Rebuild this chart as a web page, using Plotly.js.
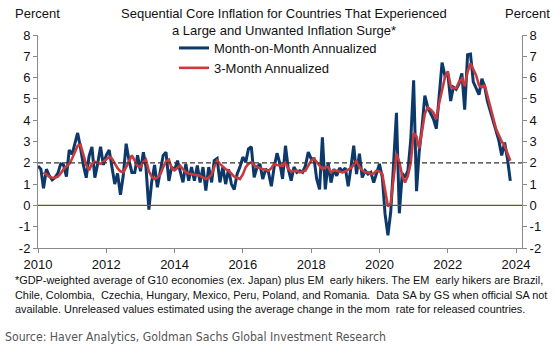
<!DOCTYPE html>
<html>
<head>
<meta charset="utf-8">
<script src="https://cdn.plot.ly/plotly-3.0.1.min.js"></script>
<style>html,body{margin:0;padding:0;background:#fff}#chart{width:556px;height:344px}</style>
</head>
<body>
<div id="chart"></div>
<script>
// ---- data (monthly, Jan 2010 – Nov 2023) ----
const startYear = 2010;
const momAnnualized = [
 1.85,1.7,0.8,1.7,1.4,1.2,1.3,1.5,1.95,1.9,1.35,2.6,
 2.4,2.9,3.4,2.7,1.9,1.3,2.3,2.75,1.3,1.95,2.75,1.9,
 2.35,2.6,1.8,1.0,1.5,0.5,1.4,2.9,2.1,1.55,1.55,2.35,
 1.6,2.5,1.8,-0.2,1.1,1.9,0.85,1.7,2.35,2.5,1.15,1.8,
 1.65,2.1,1.6,1.08,1.95,1.16,1.8,1.16,1.87,1.08,1.8,0.7,
 1.8,1.08,2.1,2.2,1.08,1.8,1.0,1.7,1.0,0.75,1.48,1.8,
 2.27,2.03,2.65,2.75,1.32,1.8,1.95,1.24,1.71,1.56,0.9,1.8,
 2.45,1.95,1.24,2.8,1.71,1.16,1.8,1.55,1.63,1.55,1.87,2.5,
 2.19,2.19,1.24,0.75,3.2,0.75,2.0,1.07,1.7,1.39,1.76,1.6,
 1.76,0.9,1.74,2.8,1.47,2.43,1.31,1.63,1.47,1.55,1.07,1.5,
 1.95,1.31,-0.4,-1.4,-0.3,2.0,4.35,-0.37,1.5,1.31,1.63,3.07,
 5.87,0.67,2.5,3.71,5.15,4.6,4.35,4.05,3.6,5.3,6.7,6.1,
 6.2,4.9,5.55,5.45,5.7,6.2,4.5,7.07,7.1,5.8,5.5,5.2,
 5.95,5.55,4.9,4.4,4.0,3.4,3.05,2.35,2.95,2.2,1.15
];
const threeMonthAnnualized = [
 null,null,1.55,1.45,1.35,1.3,1.3,1.35,1.5,1.7,1.85,1.95,
 2.2,2.5,2.8,2.85,2.4,1.9,1.65,1.95,2.05,2.0,1.95,2.05,
 2.15,2.27,2.2,1.95,1.75,1.6,1.55,1.8,2.1,2.35,2.1,1.85,
 1.8,2.05,2.15,1.6,1.35,1.24,1.3,1.45,1.8,2.05,2.15,1.75,
 1.65,1.75,1.87,1.7,1.55,1.5,1.47,1.45,1.42,1.39,1.3,1.24,
 1.3,1.45,1.8,2.1,1.95,1.8,1.7,1.63,1.5,1.35,1.3,1.24,
 1.45,1.8,1.95,2.03,1.9,1.8,1.75,1.71,1.65,1.63,1.75,1.95,
 1.9,1.87,1.85,2.03,1.71,1.6,1.6,1.63,1.55,1.6,1.63,1.87,
 2.1,2.19,2.03,1.85,1.7,1.8,1.8,1.55,1.65,1.63,1.6,1.55,
 1.6,1.7,1.75,1.9,2.1,1.8,1.65,1.55,1.55,1.47,1.5,1.63,
 1.6,1.47,0.75,-0.05,0.1,1.15,2.43,2.03,1.39,1.07,1.4,2.0,
 3.39,3.23,2.67,3.5,4.3,4.6,4.5,4.35,4.05,4.8,5.5,6.0,
 6.3,5.6,5.5,5.5,5.8,5.95,5.6,6.27,6.67,6.4,6.1,5.63,
 5.55,5.63,5.15,4.6,4.0,3.6,3.3,3.0,2.8,2.45,2.1
];
const yTickVals = [-2,-1,0,1,2,3,4,5,6,7,8];
const yTickText = ['-2','-1','0','1','2','3','4','5','6','7','8'];
const seriesNames = ['Month-on-Month Annualized','3-Month Annualized'];
const titleLines = ['Sequential Core Inflation for Countries That Experienced', 'a Large and Unwanted Inflation Surge*'];
const footnoteLines = [
  '*GDP-weighted average of G10 economies (ex. Japan) plus EM  early hikers. The EM  early hikers are Brazil,',
  'Chile, Colombia,  Czechia, Hungary, Mexico, Peru, Poland, and Romania.  Data SA by GS when official SA not',
  'available. Unreleased values estimated using the average change in the mom  rate for released countries.'
];
const sourceText = 'Source: Haver Analytics, Goldman Sachs Global Investment Research';

const dates = momAnnualized.map((_, i) => {
  const y = startYear + Math.floor(i / 12);
  const m = (i % 12) + 1;
  return y + '-' + String(m).padStart(2, '0') + '-01';
});

const FONT = 'Liberation Sans, Arial, sans-serif';
const BLUE = '#0c3969';
const RED = '#c83a3c';

const traces = [
  {x: dates, y: momAnnualized, type: 'scatter', mode: 'lines', name: seriesNames[0],
   line: {color: BLUE, width: 3}, hoverinfo: 'skip'},
  {x: dates, y: threeMonthAnnualized, type: 'scatter', mode: 'lines', name: seriesNames[1],
   line: {color: RED, width: 2.6}, hoverinfo: 'skip'},
  {x: dates, y: momAnnualized, type: 'scatter', mode: 'lines', yaxis: 'y2', showlegend: false,
   line: {color: 'rgba(0,0,0,0)', width: 0}, hoverinfo: 'skip'}
];

const L = 38, R = 34, T = 35, B = 96, W = 556, H = 344;
const pw = W - L - R, ph = H - T - B;
const px = v => (v - L) / pw;
const py = v => (H - B - v) / ph;

const axisCommon = {
  showgrid: false, zeroline: false, showline: true, linecolor: '#8a8a8a', linewidth: 1,
  ticks: 'outside', ticklen: 4, tickcolor: '#8a8a8a', tickfont: {family: FONT, size: 13, color: '#111'}
};

function note(text, x, y, anchor, font) {
  return {text: text, xref: 'paper', yref: 'paper', x: px(x), xanchor: anchor, y: py(y), yanchor: 'middle',
          showarrow: false, font: font};
}
const f13 = {family: FONT, size: 13, color: '#111'};
const fNote = {family: FONT, size: 10.9, color: '#111'};
const fSrc = {family: 'Liberation Sans Narrow, DejaVu Sans Condensed, Roboto, sans-serif', size: 12.2, color: '#555'};

const layout = {
  width: W, height: H,
  margin: {l: L, r: R, t: T, b: B, pad: 0},
  paper_bgcolor: '#fff', plot_bgcolor: '#fff',
  font: f13,
  xaxis: Object.assign({}, axisCommon, {
    type: 'date', range: ['2010-01-01', '2024-03-05'],
    tick0: '2010-01-01', dtick: 'M24', tickformat: '%Y'
  }),
  yaxis: Object.assign({}, axisCommon, {
    range: [-2, 8], tickvals: yTickVals, ticktext: yTickText
  }),
  yaxis2: Object.assign({}, axisCommon, {
    range: [-2, 8], tickvals: yTickVals, ticktext: yTickText,
    overlaying: 'y', side: 'right'
  }),
  showlegend: true,
  legend: {
    x: px(174), xanchor: 'left', y: py(33), yanchor: 'top',
    bgcolor: 'rgba(0,0,0,0)', borderwidth: 0, itemwidth: 30,
    font: f13, tracegroupgap: 0
  },
  shapes: [
    {type: 'line', xref: 'paper', x0: 0, x1: 1, yref: 'y', y0: 0, y1: 0,
     line: {color: '#5c5c30', width: 1.2}},
    {type: 'line', xref: 'paper', x0: 0, x1: 1, yref: 'y', y0: 2, y1: 2,
     line: {color: '#333', width: 1.2, dash: '5px,3px'}}
  ],
  annotations: [
    note(titleLines[0], 284, 14, 'center', f13),
    note(titleLines[1], 284, 30, 'center', f13),
    note('Percent', 13, 14, 'left', f13),
    note('Percent', 552, 14, 'right', f13),
    note(footnoteLines[0], 13, 280, 'left', fNote),
    note(footnoteLines[1], 13, 294.5, 'left', fNote),
    note(footnoteLines[2], 13, 308.5, 'left', fNote),
    note(sourceText, 3, 337, 'left', fSrc)
  ]
};

Plotly.newPlot('chart', traces, layout, {staticPlot: true, displayModeBar: false});
</script>
</body>
</html>
